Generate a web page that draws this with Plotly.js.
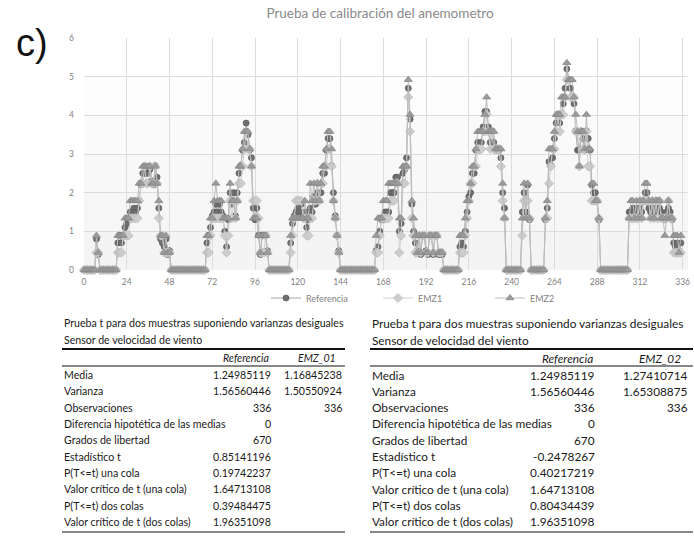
<!DOCTYPE html>
<html><head><meta charset="utf-8">
<script src="https://cdn.plot.ly/plotly-3.0.1.min.js"></script>
<style>html,body{margin:0;padding:0;background:#fff}#chart{width:694px;height:541px}</style>
</head><body><div id="chart"></div>
<script>
// ---- chart data (hourly wind speed, m/s) ----
const referencia = [
0,0,0,0,0,0,0,0.8,0.4,0,0,0,0,0,0,0,0,0,0,0.7,0.9,0.7,0.9,1.1,
1.2,1.3,1.5,1.5,1.6,1.5,1.6,1.8,2.2,2.5,2.5,2.5,2.5,2.6,2.3,2.2,2.7,2.4,1.6,0.8,0.7,0.6,0.8,0.4,
0.5,0,0,0,0,0,0,0,0,0,0,0,0,0,0,0,0,0,0,0,0,0.7,0.9,1.1,
1.4,1.5,1.7,1.5,1.7,1.5,1.4,1.0,0.6,1.3,2.0,1.7,2.0,1.4,2.0,2.5,2.7,3.1,3.3,3.8,3.5,3.1,2.9,1.6,
1.3,1.6,0.9,0.4,0.9,0.9,0.9,0.5,0,0,0,0,0,0,0,0,0,0,0,0,0.7,1.2,1.4,1.5,
1.6,1.5,1.7,1.4,1.5,1.1,1.3,1.6,1.5,1.9,1.7,2.0,1.8,2.0,2.5,2.5,3.1,3.4,3.4,2.7,2.0,1.4,0.9,0.5,
0,0,0,0,0,0,0,0,0,0,0,0,0,0,0,0,0,0,0,0,0.5,0.6,1.0,1.3,
1.3,1.5,1.5,1.5,2.0,2.0,2.0,2.4,2.4,1.0,1.2,2.5,2.6,2.9,4.7,3.9,1.7,1.0,0.7,0.5,0.9,0.4,0.9,0.9,
0.5,0.4,0.9,0.9,0.4,0.9,0.9,0.4,0.4,0.4,0,0,0,0,0,0,0,0,0,0.6,0.7,0.6,1.0,1.5,
1.9,2.0,2.5,2.5,3.1,3.3,3.1,3.3,3.7,4.1,4.1,3.7,3.3,3.6,3.3,3.1,3.1,3.1,2.9,2.0,1.6,0,0,0,
0,0,0,0,0,0,1.5,2.0,1.5,2.2,1.3,0,0,0,0,0,0,0,0,1.3,1.6,2.8,2.7,2.9,
3.4,3.8,4.0,3.8,4.0,4.3,4.7,5.2,4.9,4.7,4.5,4.3,3.6,3.1,3.1,3.6,3.4,3.1,3.6,3.4,3.1,2.2,2.0,2.0,
1.8,1.3,0,0,0,0,0,0,0,0,0,0,0,0,0,0,0,0,1.5,1.5,1.6,1.5,1.6,1.5,
1.6,1.5,1.8,2.0,2.0,1.6,1.5,1.6,1.5,1.6,1.5,1.6,1.5,1.4,1.3,1.5,1.6,1.5,1.3,0.7,0.6,0.7,0.5,0.7
];
const emz1 = [
0,0,0,0,0,0,0,0.45,0.45,0,0,0,0,0,0,0,0,0,0,0.45,0.45,0.45,0.89,0.89,
0.89,0.89,1.34,1.34,1.34,1.34,1.34,1.79,2.24,2.24,2.68,2.24,2.24,2.68,2.24,2.24,2.68,2.24,1.34,0.89,0.89,0.45,0.45,0.45,
0.45,0,0,0,0,0,0,0,0,0,0,0,0,0,0,0,0,0,0,0,0,0.45,0.45,0.89,
1.34,1.34,1.34,1.34,1.34,1.34,1.34,0.89,0.45,0.89,1.79,1.34,1.79,1.34,1.79,2.24,2.24,2.68,3.13,3.58,3.13,3.13,2.68,1.79,
1.79,1.79,1.34,0.45,0.45,0.45,0.89,0.45,0,0,0,0,0,0,0,0,0,0,0,0,0.45,0.89,1.34,1.79,
1.79,1.79,1.79,1.34,1.34,0.89,0.89,1.34,1.34,1.79,1.79,2.24,1.79,2.24,2.24,2.68,2.68,3.13,3.13,2.68,1.79,1.34,0.89,0.45,
0,0,0,0,0,0,0,0,0,0,0,0,0,0,0,0,0,0,0,0,0.45,0.45,0.89,1.34,
1.34,1.34,1.34,1.34,1.79,1.79,1.79,2.24,2.24,0.45,0.89,2.24,2.24,2.68,4.47,3.58,1.34,0.89,0.45,0.45,0.89,0.45,0.89,0.89,
0.45,0.45,0.89,0.89,0.45,0.89,0.89,0.45,0.45,0.45,0,0,0,0,0,0,0,0,0,0.45,0.45,0.45,0.89,1.34,
1.79,2.24,2.24,2.68,2.68,3.13,3.13,3.13,3.58,3.58,4.02,3.58,3.13,3.58,3.13,3.13,3.13,3.13,2.68,1.79,1.34,0,0,0,
0,0,0,0,0,0,0.89,1.79,1.79,1.79,1.34,0,0,0,0,0,0,0,0,1.34,1.34,2.24,2.68,3.13,
3.13,3.58,4.02,3.58,4.02,4.02,4.47,4.92,4.92,4.47,4.47,4.47,3.58,3.58,2.68,3.58,3.13,3.13,3.58,2.68,2.68,1.79,1.79,1.79,
1.79,1.34,0,0,0,0,0,0,0,0,0,0,0,0,0,0,0,0,1.34,1.34,1.34,1.34,1.34,1.34,
1.79,1.34,1.79,1.79,1.79,1.79,1.34,1.79,1.34,1.79,1.34,1.79,1.34,1.34,1.34,1.34,1.79,1.34,1.34,0.45,0.45,0.45,0.45,0.45
];
const emz2 = [
0,0,0,0,0,0,0,0.89,0.45,0,0,0,0,0,0,0,0,0,0,0.89,0.89,0.89,0.89,1.34,
1.34,1.34,1.79,1.79,1.79,1.79,1.79,2.24,2.24,2.68,2.68,2.68,2.68,2.68,2.24,2.24,2.68,2.24,1.79,0.89,0.89,0.45,0.89,0.45,
0.45,0,0,0,0,0,0,0,0,0,0,0,0,0,0,0,0,0,0,0,0,0.89,0.89,1.34,
1.34,1.79,2.24,1.79,1.79,1.79,1.34,1.34,1.34,1.34,2.24,1.79,1.79,1.34,1.79,2.68,2.68,3.13,3.58,3.58,3.58,3.13,2.68,1.34,
1.34,1.34,0.89,0.45,0.89,0.89,0.89,0.45,0,0,0,0,0,0,0,0,0,0,0,0,0.89,1.34,1.34,1.34,
1.34,1.34,1.34,1.34,1.79,1.34,1.34,2.24,1.79,2.24,1.79,2.24,1.79,2.24,2.68,2.68,3.13,3.58,3.58,3.13,1.79,1.34,0.89,0.45,
0,0,0,0,0,0,0,0,0,0,0,0,0,0,0,0,0,0,0,0,0.89,1.34,1.34,1.34,
1.79,1.79,1.79,2.24,2.24,2.24,2.24,2.24,2.24,1.34,1.34,2.68,2.68,2.68,4.92,4.02,1.79,1.34,0.89,0.45,0.89,0.45,0.89,0.89,
0.45,0.45,0.89,0.89,0.45,0.89,0.89,0.45,0.45,0.45,0,0,0,0,0,0,0,0,0,0.89,0.89,0.89,1.34,1.79,
1.79,2.24,2.68,2.68,3.13,3.58,3.58,3.58,3.58,4.02,4.47,3.58,3.58,3.58,3.58,3.13,3.13,3.13,3.13,2.24,1.34,0,0,0,
0,0,0,0,0,0,1.34,2.24,1.34,2.24,1.34,0,0,0,0,0,0,0,0,1.34,1.79,3.13,3.13,3.13,
3.58,4.02,4.02,4.02,4.47,4.47,4.47,5.36,4.92,4.92,4.92,4.47,4.02,3.58,2.68,3.58,3.58,3.13,4.02,3.13,3.13,2.24,2.24,1.79,
1.79,1.34,0,0,0,0,0,0,0,0,0,0,0,0,0,0,0,0,1.34,1.79,1.79,1.34,1.79,1.34,
1.79,1.34,1.79,2.24,2.24,1.79,1.34,1.79,1.34,1.79,1.79,1.79,1.34,1.34,0.89,1.34,1.79,1.34,1.34,0.89,0.89,0.89,0.45,0.89
];
const seriesNames = ['Referencia', 'EMZ1', 'EMZ2'];
const xTickVals = [0,24,48,72,96,120,144,168,192,216,240,264,288,312,336];
const yTickVals = [0,1,2,3,4,5,6];

// ---- t-test tables ----
const tableTitle = 'Prueba t para dos muestras suponiendo varianzas desiguales';
const leftSubtitle = 'Sensor de velocidad de viento';
const rightSubtitle = 'Sensor de velocidad del viento';
const rowLabels = ['Media','Varianza','Observaciones','Diferencia hipotética de las medias','Grados de libertad','Estadístico t','P(T<=t) una cola','Valor crítico de t (una cola)','P(T<=t) dos colas','Valor crítico de t (dos colas)'];
const leftHeaders = ['Referencia', 'EMZ_01'];
const rightHeaders = ['Referencia', 'EMZ_02'];
const leftRef = ['1.24985119','1.56560446','336','0','670','0.85141196','0.19742237','1.64713108','0.39484475','1.96351098'];
const leftEmz = ['1.16845238','1.50550924','336','','','','','','',''];
const rightRef = ['1.24985119','1.56560446','336','0','670','-0.2478267','0.40217219','1.64713108','0.80434439','1.96351098'];
const rightEmz = ['1.27410714','1.65308875','336','','','','','','',''];

const W = 694, H = 541;
const px = v => v / W, py = v => 1 - v / H;
const esc = s => s.replace(/&/g,'&amp;').replace(/</g,'&lt;').replace(/>/g,'&gt;');
const TF = 'Lato, "Liberation Sans", sans-serif';

const traces = [
  {y: referencia, name: seriesNames[0], type: 'scatter', mode: 'lines+markers', cliponaxis: false,
   line: {color: '#a8a8a8', width: 1},
   marker: {symbol: 'circle', size: 6, color: '#6f6f6f', line: {color: '#5e5e5e', width: 0.8}}},
  {y: emz1, name: seriesNames[1], type: 'scatter', mode: 'lines+markers', cliponaxis: false,
   line: {color: '#d0d0d0', width: 1},
   marker: {symbol: 'diamond', size: 7, color: '#cdcdcd', line: {color: '#bdbdbd', width: 0.8}}},
  {y: emz2, name: seriesNames[2], type: 'scatter', mode: 'lines+markers', cliponaxis: false,
   line: {color: '#bcbcbc', width: 1},
   marker: {symbol: 'triangle-up', size: 7, color: '#9c9c9c', line: {color: '#888888', width: 0.8}}}
];

const annotations = [
  {text: 'c)', x: px(32), y: py(43), xref: 'paper', yref: 'paper', showarrow: false,
   xanchor: 'center', yanchor: 'middle', font: {family: '"Liberation Sans", Arial, sans-serif', size: 38, color: '#111'}}
];
// faint vertical shading of the plot area (lighter towards the top)
const shadeBands = ['#f4f4f4', '#f6f6f6', '#f8f8f8', '#fafafa', '#fdfdfd'];
const shapes = shadeBands.map((c, k) => ({type: 'rect', xref: 'x', yref: 'y', x0: 0, x1: 339, y0: k, y1: k + 1,
  fillcolor: c, line: {width: 0}, layer: 'below'}));

function addTable(x0, x1, col1R, col2R, colW, fontSize, subtitle, headers, refVals, emzVals) {
  const f = {family: TF, size: fontSize, color: '#1a1a1a'};
  const yT1 = 323, yT2 = 340, yThick = 349, yHead = 358, yThin = 366, yRow0 = 375, dy = 16.33, yBot = 532;
  annotations.push({text: tableTitle, x: px(x0), y: py(yT1), xref:'paper', yref:'paper', showarrow:false, xanchor:'left', yanchor:'middle', font: f});
  annotations.push({text: subtitle, x: px(x0), y: py(yT2), xref:'paper', yref:'paper', showarrow:false, xanchor:'left', yanchor:'middle', font: f});
  annotations.push({text: '<i>' + headers[0] + '</i>', x: px(col1R - colW/2), y: py(yHead), xref:'paper', yref:'paper', showarrow:false, xanchor:'center', yanchor:'middle', font: f});
  annotations.push({text: '<i>' + headers[1] + '</i>', x: px(col2R - colW/2), y: py(yHead), xref:'paper', yref:'paper', showarrow:false, xanchor:'center', yanchor:'middle', font: f});
  rowLabels.forEach((lab, k) => {
    const yy = py(yRow0 + k * dy);
    annotations.push({text: esc(lab), x: px(x0), y: yy, xref:'paper', yref:'paper', showarrow:false, xanchor:'left', yanchor:'middle', font: f});
    annotations.push({text: refVals[k], x: px(col1R), y: yy, xref:'paper', yref:'paper', showarrow:false, xanchor:'right', yanchor:'middle', font: f});
    if (emzVals[k]) annotations.push({text: emzVals[k], x: px(col2R), y: yy, xref:'paper', yref:'paper', showarrow:false, xanchor:'right', yanchor:'middle', font: f});
  });
  shapes.push({type:'line', xref:'paper', yref:'paper', x0: px(x0), x1: px(x1), y0: py(yThick), y1: py(yThick), line:{color:'#111', width:2}});
  shapes.push({type:'line', xref:'paper', yref:'paper', x0: px(x0), x1: px(x1), y0: py(yThin), y1: py(yThin), line:{color:'#111', width:1}});
  shapes.push({type:'line', xref:'paper', yref:'paper', x0: px(x0), x1: px(x1), y0: py(yBot), y1: py(yBot), line:{color:'#111', width:1}});
}
addTable(62, 345, 273, 344, 54, 10.6, leftSubtitle, leftHeaders, leftRef, leftEmz);
addTable(370, 693, 597, 690, 60, 11.8, rightSubtitle, rightHeaders, rightRef, rightEmz);

const layout = {
  width: W, height: H, autosize: false,
  margin: {l: 0, r: 0, t: 0, b: 0, autoexpand: false},
  paper_bgcolor: '#fff', plot_bgcolor: '#fff',
  font: {family: TF, color: '#7f7f7f'},
  title: {text: 'Prueba de calibración del anemometro', x: px(380), xanchor: 'center', y: py(13), yanchor: 'middle',
          font: {family: TF, size: 13.5, color: '#8a8a8a'}},
  xaxis: {domain: [px(84), px(688)], range: [0, 339], tickvals: xTickVals, ticktext: xTickVals.map(String),
          showgrid: true, gridcolor: '#dcdcdc', gridwidth: 1, zeroline: false, showline: false, ticks: '',
          tickfont: {size: 8.5, color: '#7f7f7f', family: TF}, ticklabelstandoff: 5, fixedrange: true, automargin: false},
  yaxis: {domain: [py(270), py(38)], range: [0, 6], tickvals: yTickVals,
          showgrid: true, gridcolor: '#dcdcdc', gridwidth: 1, zeroline: false, showline: false, ticks: '',
          tickfont: {size: 8.5, color: '#7f7f7f', family: TF}, ticklabelstandoff: 9, fixedrange: true, automargin: false},
  showlegend: true,
  legend: {orientation: 'h', x: px(266), xanchor: 'left', y: py(298), yanchor: 'middle',
           font: {size: 9, color: '#7f7f7f', family: TF}, bgcolor: 'rgba(0,0,0,0)', itemwidth: 30,
           entrywidth: 67, entrywidthmode: 'pixels'},
  annotations: annotations,
  shapes: shapes
};
Plotly.newPlot('chart', traces, layout, {staticPlot: true, displayModeBar: false});
</script>
</body></html>
